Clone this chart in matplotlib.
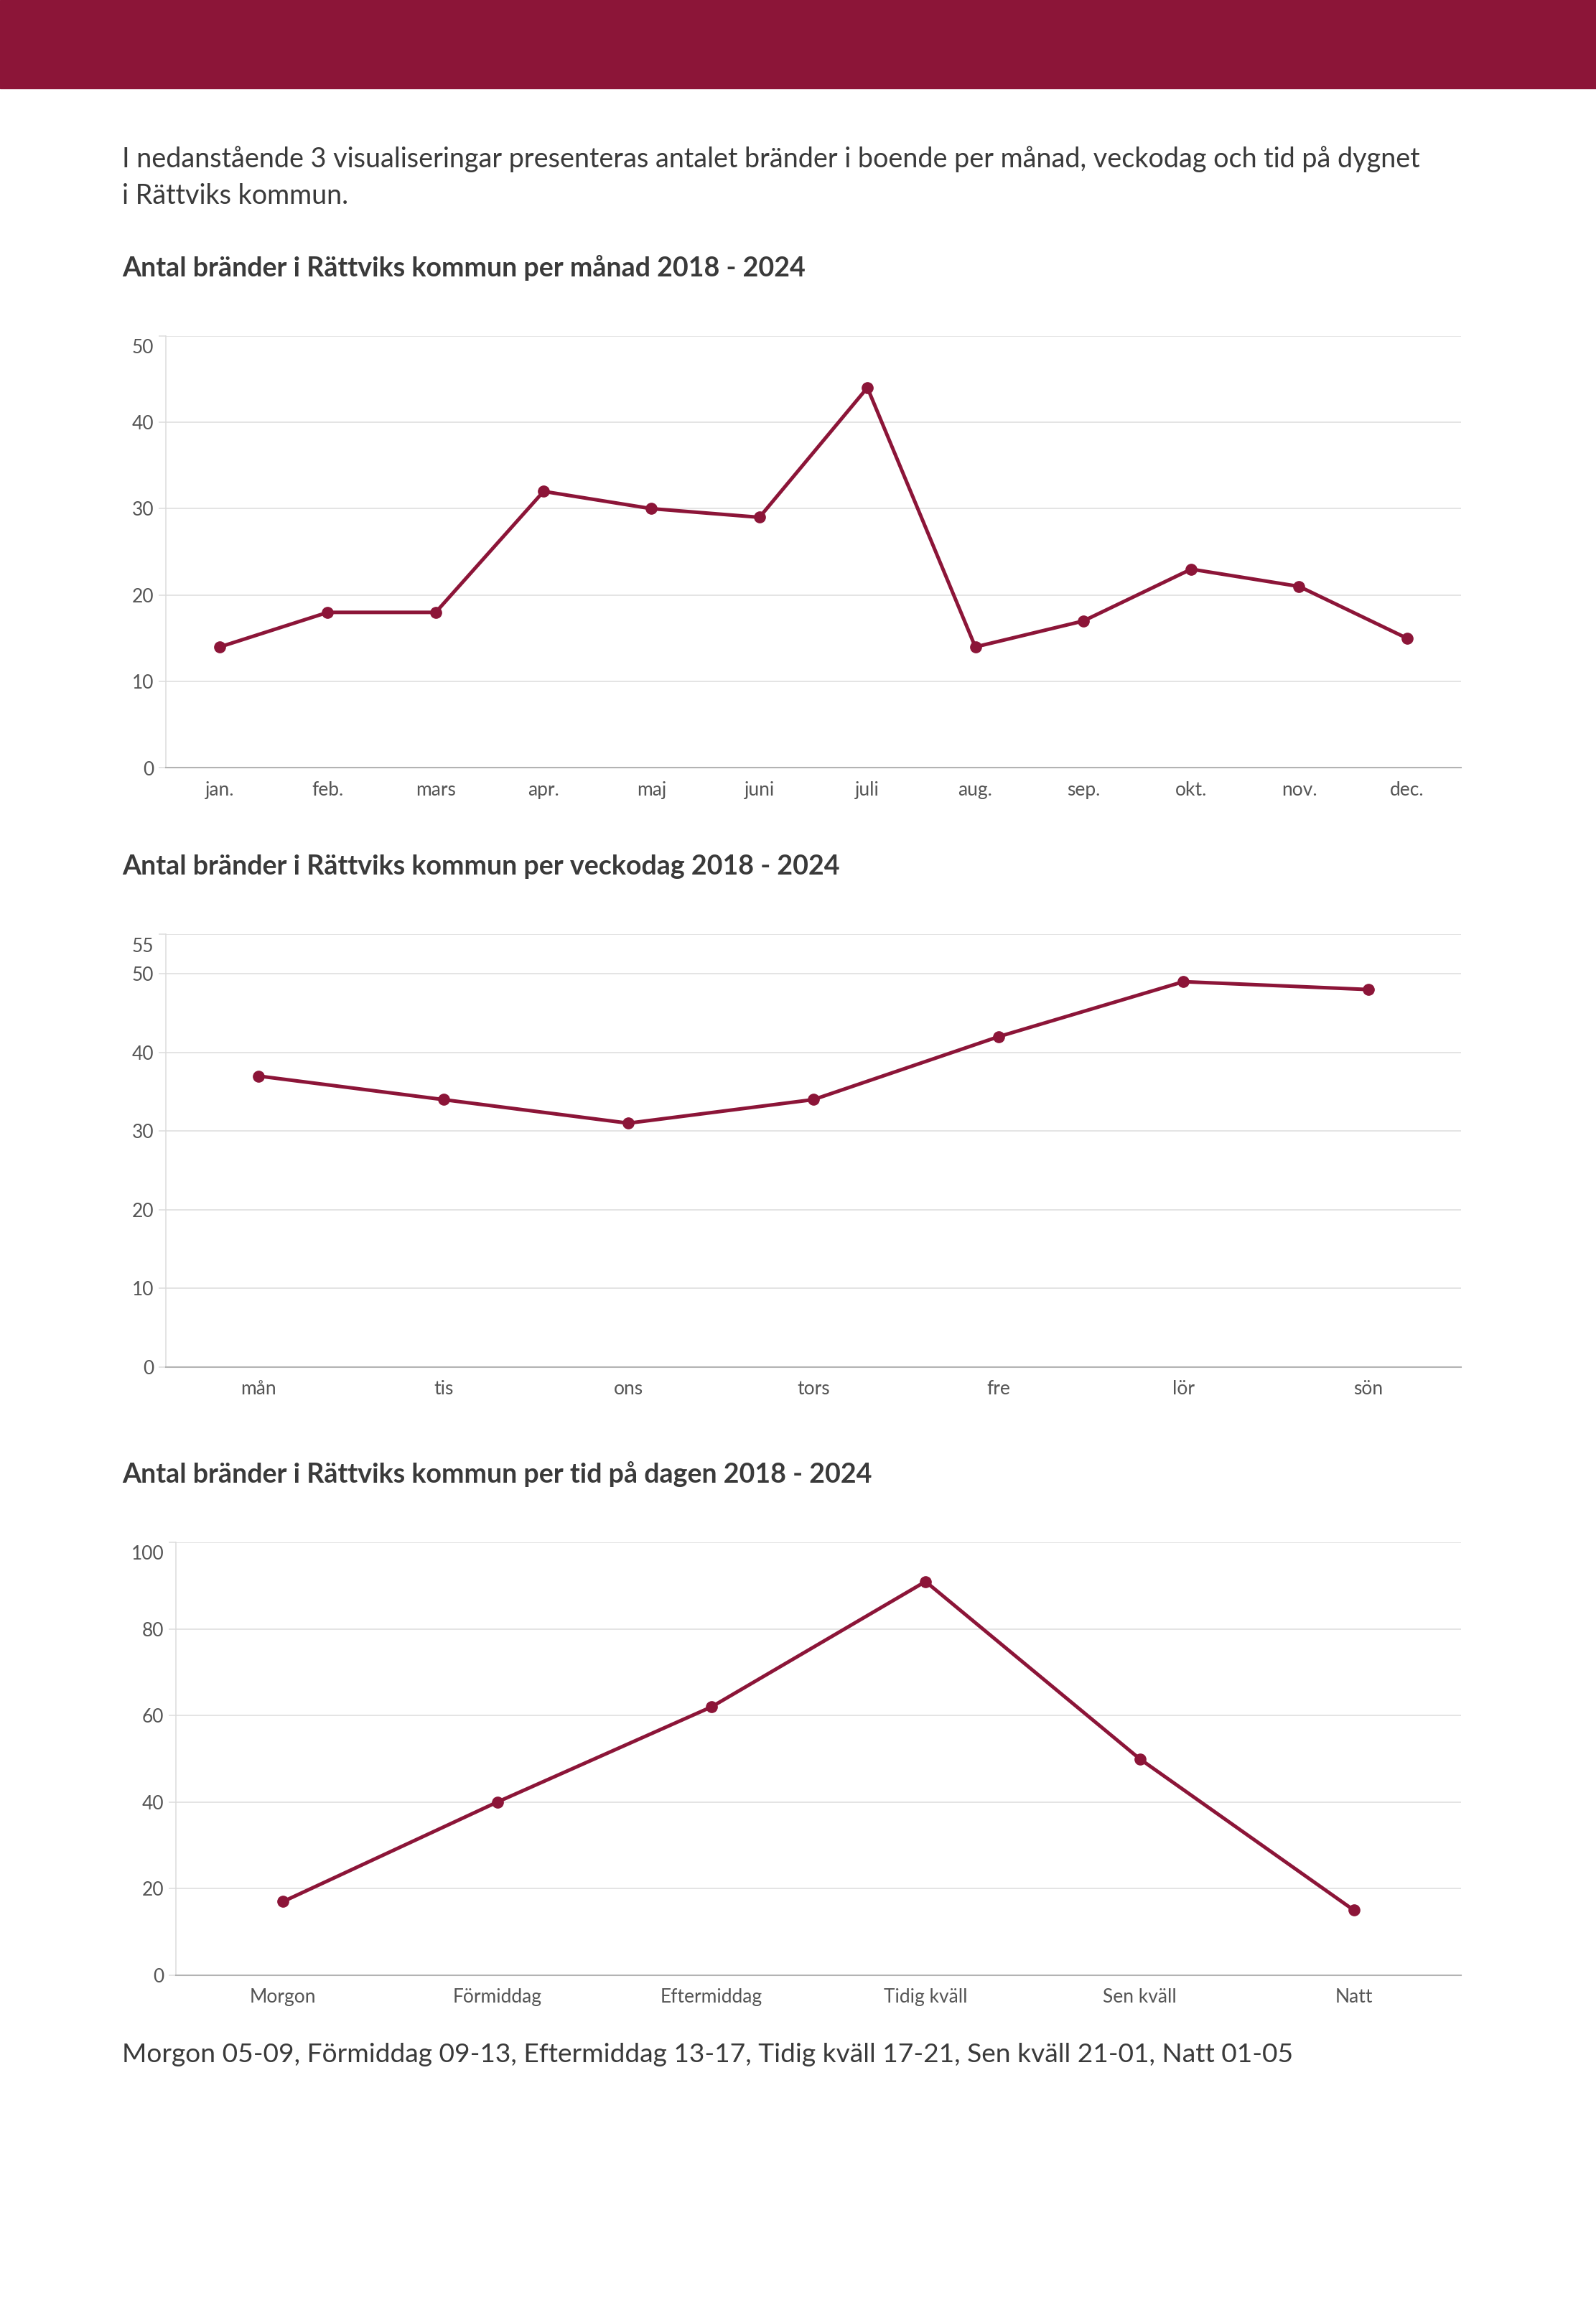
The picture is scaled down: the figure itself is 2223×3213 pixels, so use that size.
import matplotlib.pyplot as plt
import matplotlib.transforms as mtransforms
from matplotlib.patches import Rectangle

W, H = 2223, 3213
DPI = 100
RED = "#8c1538"
TEXT = "#3a3a3a"
TICK = "#555555"
GRID = "#dcdcdc"
FONT = "Lato"

months = ["jan.", "feb.", "mars", "apr.", "maj", "juni", "juli",
          "aug.", "sep.", "okt.", "nov.", "dec."]
month_counts = [14, 18, 18, 32, 30, 29, 44, 14, 17, 23, 21, 15]

weekdays = ["mån", "tis", "ons", "tors", "fre", "lör", "sön"]
weekday_counts = [37, 34, 31, 34, 42, 49, 48]

dayparts = ["Morgon", "Förmiddag", "Eftermiddag", "Tidig kväll", "Sen kväll", "Natt"]
daypart_counts = [17, 40, 62, 91, 50, 15]

intro = ["I nedanstående 3 visualiseringar presenteras antalet bränder i boende "
         "per månad, veckodag och tid på dygnet",
         "i Rättviks kommun."]
titles = ["Antal bränder i Rättviks kommun per månad 2018 - 2024",
          "Antal bränder i Rättviks kommun per veckodag 2018 - 2024",
          "Antal bränder i Rättviks kommun per tid på dagen 2018 - 2024"]
footnote = ("Morgon 05-09, Förmiddag 09-13, Eftermiddag 13-17, "
            "Tidig kväll 17-21, Sen kväll 21-01, Natt 01-05")

plt.rcParams["font.family"] = [FONT, "DejaVu Sans"]

fig = plt.figure(figsize=(W / DPI, H / DPI), dpi=DPI)
fig.patch.set_facecolor("white")
renderer = fig.canvas.get_renderer()


def px_box(left, top, right, bottom):
    return [left / W, 1 - bottom / H, (right - left) / W, (bottom - top) / H]


def page_text(x, y, s, size, width=None, **kw):
    # x, y in pixels from top-left, y is the baseline
    t = fig.text(x / W, 1 - y / H, s, fontsize=size, color=TEXT,
                 va="baseline", ha="left", **kw)
    if width:
        w = t.get_window_extent(renderer).width
        t.set_fontsize(size * width / w)
    return t


def draw_chart(ax, labels, values, ymax, yticks):
    xs = list(range(len(labels)))
    ax.plot(xs, values, color=RED, lw=3.6, marker="o", ms=11,
            clip_on=False, zorder=3)
    ax.set_xlim(-0.5, len(labels) - 0.5)
    ax.set_ylim(0, ymax)
    ax.set_yticks(yticks)
    ax.set_xticks(xs)
    ax.set_xticklabels(labels)
    ax.grid(axis="y", color=GRID, lw=1.1)
    ax.set_axisbelow(True)
    for s in ("top", "right"):
        ax.spines[s].set_visible(False)
    ax.spines["left"].set_color(GRID)
    ax.spines["left"].set_linewidth(1.1)
    ax.spines["bottom"].set_color("#b3b3b3")
    ax.spines["bottom"].set_linewidth(1.5)
    ax.tick_params(axis="y", length=7, width=1.1, color=GRID, pad=5,
                   labelsize=19, labelcolor=TICK)
    ax.tick_params(axis="x", length=0, pad=13, labelsize=19,
                   labelcolor=TICK)
    # top label sits below its grid line
    top = ax.yaxis.get_major_ticks()[-1].label1
    top.set_va("top")
    top.set_transform(top.get_transform() +
                      mtransforms.ScaledTranslation(0, -4 / DPI, fig.dpi_scale_trans))


# --- banner ---
fig.patches.append(Rectangle((0, 1 - 123 / H), 1, 123 / H,
                             transform=fig.transFigure, color=RED, zorder=0))

# --- intro text ---
t1 = page_text(170, 233, intro[0], 26, width=1807)
page_text(170, 284, intro[1], t1.get_fontsize())

# --- titles ---
tt = page_text(170, 385, titles[0], 26, width=953, fontweight="bold")
page_text(170, 1218, titles[1], tt.get_fontsize(), fontweight="bold")
page_text(170, 2065, titles[2], tt.get_fontsize(), fontweight="bold")

# --- charts ---
ax1 = fig.add_axes(px_box(231, 467.7, 2035, 1069.5))
draw_chart(ax1, months, month_counts, 50, [0, 10, 20, 30, 40, 50])

ax2 = fig.add_axes(px_box(231, 1301.5, 2035, 1903.7))
draw_chart(ax2, weekdays, weekday_counts, 55, [0, 10, 20, 30, 40, 50, 55])

ax3 = fig.add_axes(px_box(245, 2148.4, 2035, 2750.8))
draw_chart(ax3, dayparts, daypart_counts, 100, [0, 20, 40, 60, 80, 100])

# --- footnote ---
page_text(170, 2872, footnote, 26, width=1629)

fig.savefig("out.png", dpi=DPI, facecolor="white")
